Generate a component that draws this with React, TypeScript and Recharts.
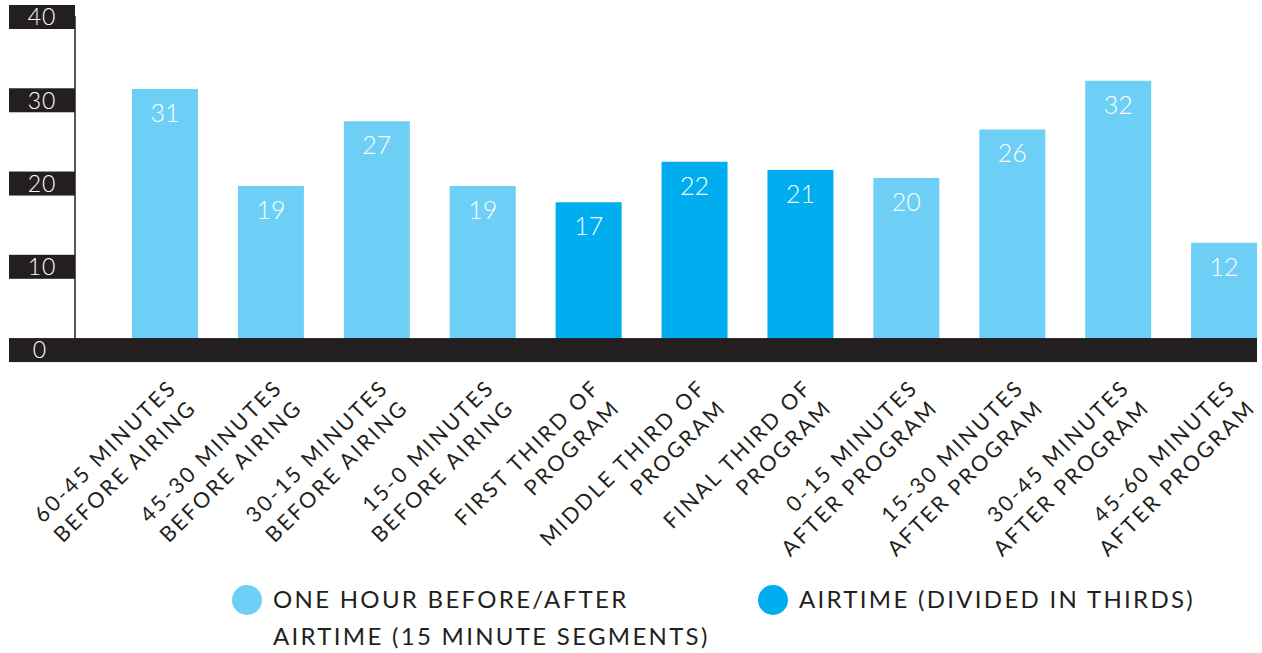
import { Bar, BarChart, Cell, LabelList, Legend, XAxis, YAxis } from 'recharts'

const categories = [
  ['60-45 MINUTES', 'BEFORE AIRING'],
  ['45-30 MINUTES', 'BEFORE AIRING'],
  ['30-15 MINUTES', 'BEFORE AIRING'],
  ['15-0 MINUTES', 'BEFORE AIRING'],
  ['FIRST THIRD OF', 'PROGRAM'],
  ['MIDDLE THIRD OF', 'PROGRAM'],
  ['FINAL THIRD OF', 'PROGRAM'],
  ['0-15 MINUTES', 'AFTER PROGRAM'],
  ['15-30 MINUTES', 'AFTER PROGRAM'],
  ['30-45 MINUTES', 'AFTER PROGRAM'],
  ['45-60 MINUTES', 'AFTER PROGRAM'],
]
const values = [31, 19, 27, 19, 17, 22, 21, 20, 26, 32, 12]
const segments = ['hour', 'hour', 'hour', 'hour', 'air', 'air', 'air', 'hour', 'hour', 'hour', 'hour']
const yTicks = [0, 10, 20, 30, 40]
const legendItems = [
  { key: 'hour', lines: ['ONE HOUR BEFORE/AFTER', 'AIRTIME (15 MINUTE SEGMENTS)'] },
  { key: 'air', lines: ['AIRTIME (DIVIDED IN THIRDS)'] },
]

const COLORS: Record<string, string> = { hour: '#6dcff6', air: '#00aeef' }
const INK = '#231f20'
const FONT = 'Lato, "Open Sans", sans-serif'
const PLOT_TOP = 16

const data = categories.map((lines, i) => ({
  name: lines.join('\n'),
  value: values[i],
  segment: segments[i],
}))

function YTick({ y, payload }: any) {
  // boxes drift a little below the scale as in the original artwork
  const cy = y + (y - PLOT_TOP) * 0.028 + 1
  const isZero = payload.value === 0
  return (
    <g>
      <rect x={9} y={cy - 12} width={isZero ? 1248 : 66} height={24} fill={INK} />
      <text
        x={isZero ? 40 : 42}
        y={cy}
        dy="0.36em"
        textAnchor="middle"
        fill="#fff"
        fontSize={23}
        fontFamily={FONT}
        fontWeight={300}
        letterSpacing={1}
      >
        {payload.value}
      </text>
    </g>
  )
}

function XTick({ x, y, payload }: any) {
  const lines = String(payload.value).split('\n')
  return (
    <g transform={`translate(${x + 13},${y + 41}) rotate(-45)`}>
      <text textAnchor="end" fill={INK} fontSize={21.5} fontFamily={FONT} letterSpacing={2.5}>
        {lines.map((l, i) => (
          <tspan key={i} x={0} dy={i === 0 ? 0 : 28}>
            {l}
          </tspan>
        ))}
      </text>
    </g>
  )
}

function LegendContent() {
  const starts = [232, 758]
  return (
    <svg width={1262} height={80}>
      {legendItems.map((item, i) => (
        <g key={item.key}>
          <circle cx={starts[i] + 15} cy={28} r={15} fill={COLORS[item.key]} />
          <text fill={INK} fontSize={24} fontFamily={FONT} letterSpacing={2.3}>
            {item.lines.map((l, j) => (
              <tspan key={j} x={starts[i] + 41} y={36 + j * 37}>
                {l}
              </tspan>
            ))}
          </text>
        </g>
      ))}
    </svg>
  )
}

export default function App() {
  return (
    <div
      style={{
        position: 'absolute',
        left: 0,
        top: 0,
        width: 1262,
        height: 653,
        overflow: 'hidden',
        background: '#fff',
      }}
    >
      <BarChart
        width={1290}
        height={653}
        data={data}
        margin={{ top: PLOT_TOP, right: 13, left: 9, bottom: 3 }}
      >
        <XAxis
          dataKey="name"
          interval={0}
          axisLine={false}
          tickLine={false}
          padding={{ left: 37, right: 0 }}
          height={230}
          tick={<XTick />}
        />
        <YAxis
          domain={[0, 40]}
          ticks={yTicks}
          width={66}
          tickLine={false}
          axisLine={{ stroke: INK, strokeWidth: 1.5 }}
          tick={<YTick />}
        />
        <Legend
          verticalAlign="bottom"
          content={<LegendContent />}
          wrapperStyle={{ left: 0, top: 572, width: 1262, height: 80 }}
        />
        <Bar dataKey="value" barSize={66} isAnimationActive={false}>
          {data.map((d, i) => (
            <Cell key={i} fill={COLORS[d.segment]} />
          ))}
          <LabelList
            dataKey="value"
            position="insideTop"
            offset={15}
            fill="#fff"
            fontSize={25}
            fontFamily={FONT}
            fontWeight={300}
          />
        </Bar>
      </BarChart>
    </div>
  )
}
